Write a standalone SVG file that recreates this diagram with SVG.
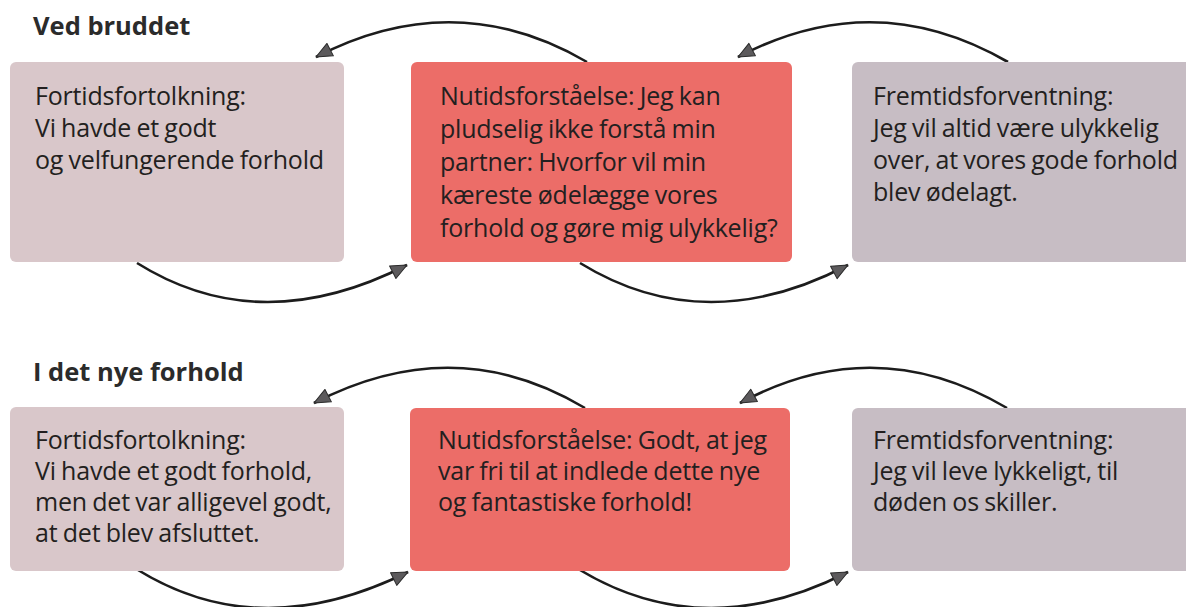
<svg xmlns="http://www.w3.org/2000/svg" width="1186" height="607" viewBox="0 0 1186 607">
<defs>
<marker id="ah" viewBox="0 0 18 16" refX="17" refY="8" markerWidth="18" markerHeight="16" markerUnits="userSpaceOnUse" orient="auto">
<path d="M1,1 L17,8 L1,15 Z" fill="#5c5a5c" stroke="#2a2a2a" stroke-width="1" stroke-linejoin="round"/>
</marker>
</defs>
<style>
.past{fill:#d9c7ca}
.now{fill:#ec6d68}
.fut{fill:#c7bdc4}
.h{font-family:"Open Sans","Liberation Sans",sans-serif;font-weight:bold;font-size:25.5px;fill:#2b2b2b}
.t{font-family:"Open Sans","Liberation Sans",sans-serif;font-size:25px;fill:#231f20;letter-spacing:-0.2px;word-spacing:-1px}
.c{fill:none;stroke:#1c1c1c;stroke-width:2.6}
</style>
<rect width="1186" height="607" fill="#ffffff"/>
<text class="h" x="33" y="35">Ved bruddet</text>
<text class="h" x="33" y="381">I det nye forhold</text>

<g id="connectors">
<path class="c" marker-end="url(#ah)" d="M587,62 Q455,-15 316,57"/>
<path class="c" marker-end="url(#ah)" d="M1008,62 Q875,-15 738,57"/>
<path class="c" marker-end="url(#ah)" d="M137,263 Q260,340 407,265"/>
<path class="c" marker-end="url(#ah)" d="M580,263 Q705,340 848,265"/>
<path class="c" marker-end="url(#ah)" d="M585,408 Q455,330 314,403"/>
<path class="c" marker-end="url(#ah)" d="M1007,408 Q875,330 740,403"/>
<path class="c" marker-end="url(#ah)" d="M138,570 Q260,645 408,572"/>
<path class="c" marker-end="url(#ah)" d="M580,570 Q705,645 848,572"/>
</g>

<g id="past1">
<rect class="past" x="10" y="62" width="334" height="200" rx="6"/>
<text class="t"><tspan x="35" y="105">Fortidsfortolkning:</tspan><tspan x="35" y="137">Vi havde et godt</tspan><tspan x="35" y="169">og velfungerende forhold</tspan></text>
</g>
<g id="now1">
<rect class="now" x="411" y="62" width="381" height="200" rx="6"/>
<text class="t"><tspan x="440" y="105">Nutidsforståelse: Jeg kan</tspan><tspan x="440" y="138">pludselig ikke forstå min</tspan><tspan x="440" y="171">partner: Hvorfor vil min</tspan><tspan x="440" y="204">kæreste ødelægge vores</tspan><tspan x="440" y="237">forhold og gøre mig ulykkelig?</tspan></text>
</g>
<g id="fut1">
<rect class="fut" x="852" y="62" width="345" height="200" rx="6"/>
<text class="t"><tspan x="873" y="105">Fremtidsforventning:</tspan><tspan x="873" y="137">Jeg vil altid være ulykkelig</tspan><tspan x="873" y="169">over, at vores gode forhold</tspan><tspan x="873" y="201">blev ødelagt.</tspan></text>
</g>

<g id="past2">
<rect class="past" x="10" y="407" width="334" height="164" rx="6"/>
<text class="t"><tspan x="35" y="449">Fortidsfortolkning:</tspan><tspan x="35" y="480">Vi havde et godt forhold,</tspan><tspan x="35" y="511">men det var alligevel godt,</tspan><tspan x="35" y="542">at det blev afsluttet.</tspan></text>
</g>
<g id="now2">
<rect class="now" x="410" y="408" width="380" height="163" rx="6"/>
<text class="t"><tspan x="438" y="449">Nutidsforståelse: Godt, at jeg</tspan><tspan x="438" y="480">var fri til at indlede dette nye</tspan><tspan x="438" y="511">og fantastiske forhold!</tspan></text>
</g>
<g id="fut2">
<rect class="fut" x="852" y="408" width="345" height="163" rx="6"/>
<text class="t"><tspan x="873" y="449">Fremtidsforventning:</tspan><tspan x="873" y="480">Jeg vil leve lykkeligt, til</tspan><tspan x="873" y="511">døden os skiller.</tspan></text>
</g>
</svg>
